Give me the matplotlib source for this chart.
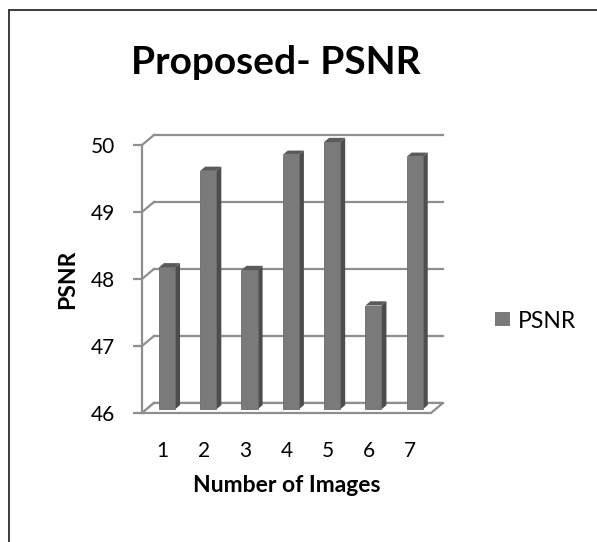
"""Proposed method PSNR per test image, drawn as an Excel-style 3D column chart."""

import matplotlib
matplotlib.use("Agg")
import matplotlib.pyplot as plt
from matplotlib.patches import Polygon, Patch
from matplotlib.lines import Line2D

plt.rcParams["font.family"] = ["Lato", "DejaVu Sans"]

images = ["1", "2", "3", "4", "5", "6", "7"]
psnr = [48.12, 49.56, 48.08, 49.80, 49.99, 47.55, 49.77]
y_ticks = [46, 47, 48, 49, 50]

FRONT = "#7a7a7a"
SIDE = "#4d4d4d"
TOP = "#5a5a5a"
GRID = "#8e8e8e"

# depth of the 3D box in data units (back wall offset)
DX, DY = 0.29, 0.15
BAR_W = 0.39
BAR_D0, BAR_D1 = 0.36, 0.78  # bar depth range as fraction of box depth

fig = plt.figure(figsize=(5.97, 5.42), dpi=100)
ax = fig.add_axes([142 / 597, 129 / 542, 289 / 597, 268 / 542])
ax.set_xlim(0, len(images))
ax.set_ylim(y_ticks[0], y_ticks[-1])
ax.patch.set_visible(False)

# walls: back-wall gridlines plus the diagonals on the side wall
for v in y_ticks:
    ax.plot([DX, len(images) + DX], [v + DY, v + DY], color=GRID, lw=1.6,
            clip_on=False, zorder=1)
    ax.plot([0, DX], [v, v + DY], color=GRID, lw=1.6, clip_on=False, zorder=1)

# floor outline
base = y_ticks[0]
n = len(images)
ax.add_patch(Polygon([(0, base), (n, base), (n + DX, base + DY), (DX, base + DY)],
                     closed=True, facecolor="white", edgecolor=GRID, lw=1.6,
                     clip_on=False, zorder=1))

# bars: front face, side face, top face
for i, v in enumerate(psnr):
    x0 = i + 0.5 - BAR_W / 2 + BAR_D0 * DX
    x1 = x0 + BAR_W
    y0 = base + BAR_D0 * DY
    yt = v + BAR_D0 * DY
    ddx = (BAR_D1 - BAR_D0) * DX
    ddy = (BAR_D1 - BAR_D0) * DY
    ax.add_patch(Polygon([(x1, y0), (x1 + ddx, y0 + ddy), (x1 + ddx, yt + ddy), (x1, yt)],
                         closed=True, facecolor=SIDE, edgecolor="none",
                         clip_on=False, zorder=3))
    ax.add_patch(Polygon([(x0, yt), (x1, yt), (x1 + ddx, yt + ddy), (x0 + ddx, yt + ddy)],
                         closed=True, facecolor=TOP, edgecolor="none",
                         clip_on=False, zorder=3))
    ax.add_patch(Polygon([(x0, y0), (x1, y0), (x1, yt), (x0, yt)],
                         closed=True, facecolor=FRONT, edgecolor="#6a6a6a", lw=0.6,
                         clip_on=False, zorder=4))

for side in ("top", "right", "bottom"):
    ax.spines[side].set_visible(False)
ax.spines["left"].set_color(GRID)
ax.spines["left"].set_linewidth(1.6)
ax.spines["left"].set_zorder(2)

ax.set_yticks(y_ticks)
ax.tick_params(axis="y", direction="out", length=6.5, width=1.6, color=GRID,
               labelsize=15, pad=13)
ax.set_xticks([i + 0.5 for i in range(n)])
ax.set_xticklabels(images)
ax.tick_params(axis="x", length=0, labelsize=15, pad=20)

ax.set_xlabel("Number of Images", fontsize=16.5, fontweight="bold", labelpad=10)
ax.set_ylabel("PSNR", fontsize=16.5, fontweight="bold", labelpad=9)

fig.text(276 / 597, 1 - 62 / 542, "Proposed- PSNR", ha="center", va="center",
         fontsize=28, fontweight="bold")

fig.legend(handles=[Patch(facecolor=FRONT, edgecolor="none")], labels=["PSNR"],
           loc="center left", bbox_to_anchor=(495 / 597, 1 - 321 / 542),
           frameon=False, fontsize=16.5, handlelength=0.65, handleheight=0.55,
           handletextpad=0.35, borderpad=0, borderaxespad=0)

# chart area frame (left and top edges)
fig.add_artist(Line2D([9 / 597, 9 / 597], [0, 1 - 10 / 542], color="#3c3c3c", lw=1.4))
fig.add_artist(Line2D([9 / 597, 1], [1 - 10 / 542, 1 - 10 / 542], color="#3c3c3c", lw=1.4))

fig.savefig("out.png", dpi=100)
